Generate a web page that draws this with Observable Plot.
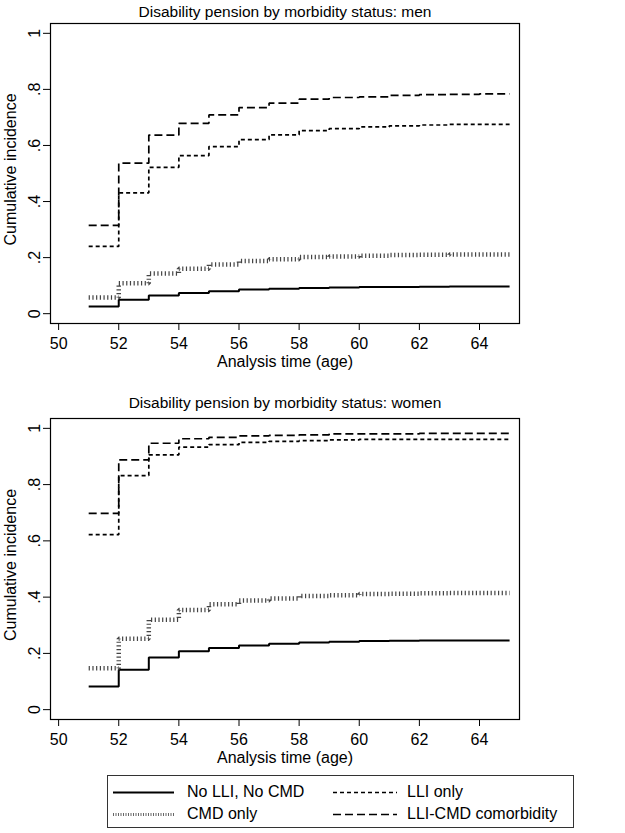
<!DOCTYPE html>
<html><head><meta charset="utf-8">
<script src="https://cdn.jsdelivr.net/npm/d3@7"></script>
<script src="https://cdn.jsdelivr.net/npm/@observablehq/plot@0.6"></script>
<style>
body{margin:0;background:#fff;font-family:"Liberation Sans",Arial,sans-serif;color:#000}
#wrap{position:relative;width:625px;height:833px;overflow:hidden;background:#fff}
.title{position:absolute;left:50px;width:470px;text-align:center;font-size:15.5px;line-height:20px}
.plot{position:absolute;left:0}
#legend{position:absolute;left:107px;top:775px;width:467px;height:53px;border:1px solid #333;box-sizing:border-box}
.item{position:absolute;font-size:16px;line-height:20px;white-space:nowrap}
.item svg{position:absolute;top:0}
</style></head>
<body>
<div id="wrap">
  <div class="title" style="top:2px">Disability pension by morbidity status: men</div>
  <div class="plot" id="p1" style="top:22px"></div>
  <div class="title" style="top:393px">Disability pension by morbidity status: women</div>
  <div class="plot" id="p2" style="top:417px"></div>
  <div id="legend"></div>
</div>
<script>
// ---- data ----
const ages = [51,52,53,54,55,56,57,58,59,60,61,62,63,64,65];
const seriesNames = ["No LLI, No CMD", "CMD only", "LLI only", "LLI-CMD comorbidity"];
const xTicks = [50,52,54,56,58,60,62,64];
const yTicks = [0,0.2,0.4,0.6,0.8,1];
const yTickLabels = ["0",".2",".4",".6",".8","1"];

const menNone = [0.026,0.050,0.065,0.074,0.080,0.086,0.089,0.092,0.093,0.095,0.095,0.096,0.097,0.097,0.097];
const menCMD  = [0.058,0.109,0.143,0.160,0.175,0.188,0.194,0.202,0.204,0.207,0.209,0.210,0.211,0.211,0.211];
const menLLI  = [0.240,0.431,0.522,0.564,0.596,0.621,0.638,0.653,0.660,0.666,0.670,0.673,0.675,0.675,0.675];
const menBoth = [0.315,0.537,0.637,0.679,0.709,0.735,0.751,0.765,0.771,0.773,0.779,0.781,0.782,0.784,0.784];

const womenNone = [0.082,0.142,0.185,0.208,0.219,0.228,0.234,0.239,0.241,0.244,0.245,0.246,0.246,0.246,0.246];
const womenCMD  = [0.147,0.252,0.320,0.354,0.375,0.388,0.395,0.404,0.407,0.411,0.412,0.414,0.415,0.415,0.415];
const womenLLI  = [0.622,0.832,0.906,0.933,0.942,0.950,0.954,0.956,0.959,0.961,0.961,0.961,0.961,0.961,0.961];
const womenBoth = [0.698,0.888,0.947,0.963,0.968,0.973,0.975,0.977,0.980,0.980,0.980,0.982,0.982,0.982,0.982];

// ---- styles ----
const styles = [
  {stroke: "#000", strokeWidth: 2, strokeDasharray: null},
  {stroke: "#444", strokeWidth: 4.5, strokeDasharray: "1.2 2.5"},
  {stroke: "#000", strokeWidth: 1.7, strokeDasharray: "4 3"},
  {stroke: "#000", strokeWidth: 1.7, strokeDasharray: "8 4"}
];
const FONT = '"Liberation Sans", Arial, sans-serif';

function panel(series, height) {
  const lines = series.map((vals, k) => {
    const rows = vals.map((v, i) => ({age: ages[i], value: v, group: seriesNames[k]}));
    const s = styles[k];
    const opts = {x: "age", y: "value", curve: "step-after", stroke: s.stroke, strokeWidth: s.strokeWidth,
      strokeLinecap: "butt", strokeLinejoin: "miter"};
    if (s.strokeDasharray) opts.strokeDasharray = s.strokeDasharray;
    return Plot.line(rows, opts);
  });
  return Plot.plot({
    width: 625, height,
    marginLeft: 50, marginRight: 106, marginTop: 1, marginBottom: 47,
    x: {domain: [49.73, 65.33], label: null},
    y: {domain: [-0.035, 1.035], label: null},
    style: {fontFamily: FONT, fontSize: "16px", color: "#000", background: "#fff", overflow: "visible"},
    marks: [
      Plot.axisX({ticks: xTicks, tickSize: 7, tickPadding: 7, fontSize: 16, label: null, tickFormat: d => String(d)}),
      Plot.axisY({ticks: yTicks, tickSize: 7, label: null, tickFormat: () => ""}),
      Plot.text(yTicks, {y: d => d, text: (d, i) => yTickLabels[i], frameAnchor: "left", dx: -16, rotate: -90,
        textAnchor: "middle", lineAnchor: "middle", fontSize: 16, fill: "#000"}),
      Plot.text(["Analysis time (age)"], {text: d => d, frameAnchor: "bottom", dy: 38,
        textAnchor: "middle", lineAnchor: "middle", fontSize: 16, fill: "#000"}),
      Plot.text(["Cumulative incidence"], {text: d => d, frameAnchor: "left", dx: -40, dy: -4, rotate: -90,
        textAnchor: "middle", lineAnchor: "middle", fontSize: 16, fill: "#000"}),
      ...lines,
      Plot.frame({stroke: "#000", strokeWidth: 1.2})
    ]
  });
}

document.getElementById("p1").appendChild(panel([menNone, menCMD, menLLI, menBoth], 348));
document.getElementById("p2").appendChild(panel([womenNone, womenCMD, womenLLI, womenBoth], 349));

// ---- legend ----
const legendPos = [
  {left: 5, top: 6}, {left: 5, top: 28}, {left: 225, top: 6}, {left: 225, top: 28}
];
const legend = document.getElementById("legend");
seriesNames.forEach((name, k) => {
  const p = legendPos[k];
  const s = styles[k];
  const div = document.createElement("div");
  div.className = "item";
  div.style.left = p.left + "px";
  div.style.top = p.top + "px";
  const w = k < 2 ? 61 : 64;
  const sw = k === 1 ? 3 : s.strokeWidth;
  div.innerHTML = `<svg width="${w}" height="20"><line x1="0" x2="${w}" y1="10.5" y2="10.5" stroke="${k === 1 ? "#666" : s.stroke}" stroke-width="${sw}" ${s.strokeDasharray ? `stroke-dasharray="${k === 1 ? "1 1.5" : s.strokeDasharray}"` : ""}/></svg><span style="position:absolute;left:74px">${name}</span>`;
  legend.appendChild(div);
});
</script>
</body></html>
